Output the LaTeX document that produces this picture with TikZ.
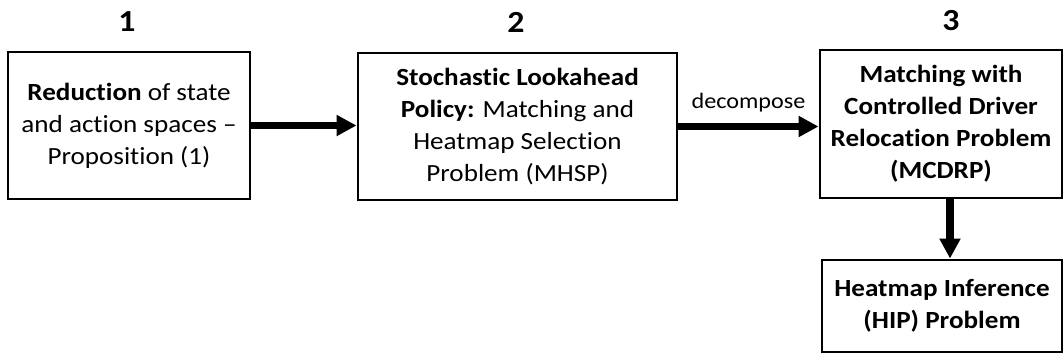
\documentclass[tikz,border=0pt]{standalone}
\usepackage{fontspec}
\setmainfont[FakeStretch=1.1, Ligatures=CommonOff]{Carlito}
\usetikzlibrary{arrows.meta}

\begin{document}
\begin{tikzpicture}[x=0.75pt,y=-0.75pt,
    box/.style={draw, line width=2.2pt, align=center, inner sep=0pt,
      font=\fontsize{18.5}{24}\selectfont},
    boldbox/.style={box, font=\fontsize{18.5}{24}\selectfont\bfseries},
    stage/.style={font=\fontsize{23}{26}\selectfont\bfseries},
    flow/.style={line width=5.5pt, -{Triangle[length=15pt,width=15pt]}}]
  \useasboundingbox (0,0) rectangle (1064,362);
  % stage numbers
  \node[stage] (n1) at (127,22) {1};
  \node[stage] (n2) at (516,22) {2};
  \node[stage] (n3) at (951,21) {3};
  % boxes
  \node[box, minimum width=181.5pt, minimum height=110.25pt] (red) at (129,125.5)
    {\textbf{Reduction} of state\\ and action spaces --\\ Proposition (1)};
  \node[box, minimum width=239.25pt, minimum height=110.25pt] (mhsp) at (517.5,126.5)
    {\textbf{Stochastic Lookahead}\\ \textbf{Policy:} Matching and\\ Heatmap Selection\\ Problem (MHSP)};
  \node[boldbox, minimum width=181.5pt, minimum height=111pt] (mcdrp) at (941,124)
    {Matching with\\ Controlled Driver\\ Relocation Problem\\ (MCDRP)};
  \node[boldbox, minimum width=180pt, minimum height=69pt] (hip) at (942,306)
    {Heatmap Inference\\ (HIP) Problem};
  % arrows
  \draw[flow] (red.east) -- (red.east -| mhsp.west);
  \draw[flow] (mhsp.east) -- (mhsp.east -| mcdrp.west)
    node[midway, above=5pt, font=\fontsize{16.5}{18}\selectfont] {decompose};
  \draw[flow] ([xshift=6.75pt]mcdrp.south) -- ([xshift=6pt]hip.north);
\end{tikzpicture}
\end{document}
